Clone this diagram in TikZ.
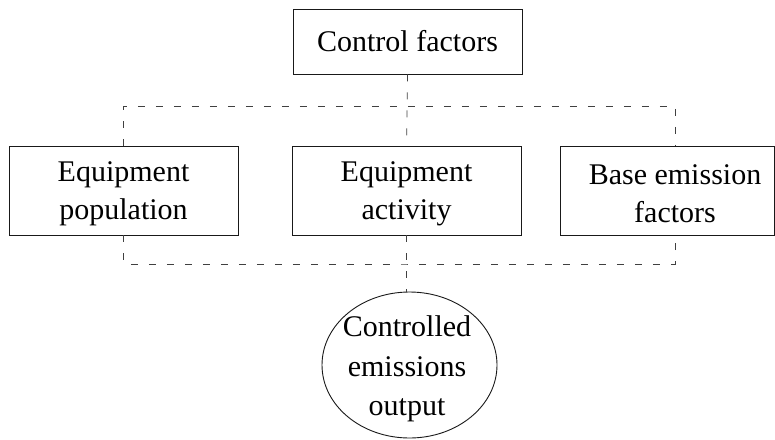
\documentclass[tikz,border=0pt]{standalone}
\usepackage{fontspec}
\setmainfont{Liberation Serif}
\usetikzlibrary{shapes.geometric}
\begin{document}
\begin{tikzpicture}[x=1pt,y=-1pt,
  box/.style={draw=black!90, line width=0.9pt, inner sep=0pt, align=center,
    font=\fontsize{30}{38}\selectfont},
  plain/.style={inner sep=0pt, align=center, font=\fontsize{30}{38}\selectfont},
  conn/.style={draw=black!75, line width=0.7pt, dash pattern=on 7pt off 11pt}]
\useasboundingbox (0,0) rectangle (775,439);
\node[box, minimum width=229, minimum height=65] (cf) at (407.5,41.5) {Control factors};
\node[box, minimum width=229, minimum height=89] (ep) at (123.5,190.5) {};
\node[plain] (ept) at (123.5,194) {Equipment\\population};
\node[box, minimum width=229, minimum height=89] (ea) at (406.5,190.5) {};
\node[plain] (eat) at (406.5,194) {Equipment\\activity};
\node[box, minimum width=214, minimum height=89] (bef) at (667,190.5) {};
\node[plain] (beft) at (675,194) {Base emission\\factors};
\node[box, ellipse, minimum width=175, minimum height=146] (ce) at (409.5,365) {};
\node[plain, font=\fontsize{30}{39.5}\selectfont] (cet) at (407,369) {Controlled\\emissions\\output};
\coordinate (ttop) at (407,106);
\coordinate (tbot) at (407,264);
\coordinate (bN) at (bef.north -| beft);
\coordinate (bS) at (bef.south -| beft);
\draw[conn] (cf.south) -- (ea.north);
\draw[conn] (ep.north) |- (ttop) -| (bN);
\draw[conn] (ep.south) |- (tbot) -| (bS);
\draw[conn] (ea.south) -- (ea.south |- ce.north);
\end{tikzpicture}
\end{document}
